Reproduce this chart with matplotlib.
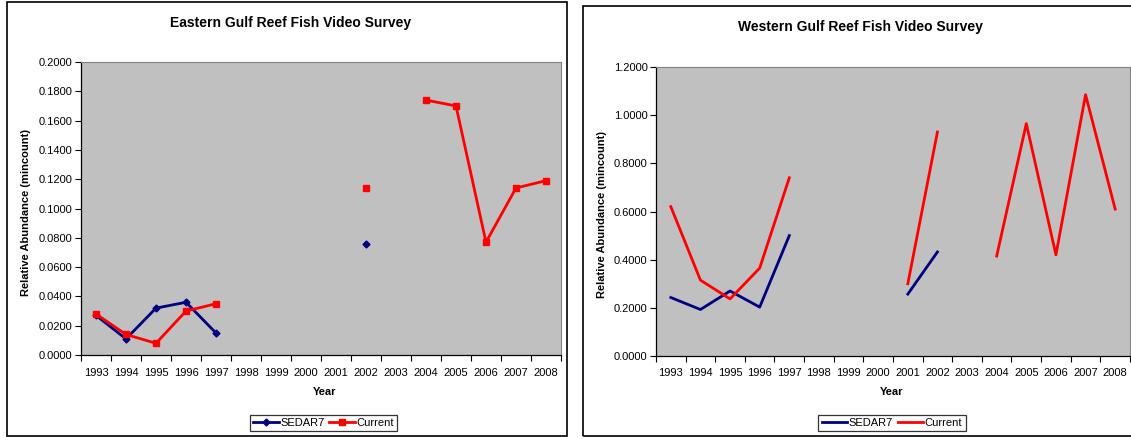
import numpy as np
import matplotlib
matplotlib.use("Agg")
import matplotlib.pyplot as plt
from matplotlib.patches import Rectangle
from matplotlib.ticker import FormatStrFormatter

plt.rcParams['font.family'] = ['Liberation Sans', 'DejaVu Sans']

years = ["1993", "1994", "1995", "1996", "1997", "1998", "1999", "2000",
         "2001", "2002", "2003", "2004", "2005", "2006", "2007", "2008"]
nan = np.nan
east_sedar7 = [0.027, 0.011, 0.032, 0.036, 0.015, nan, nan, nan,
               nan, 0.076, nan, nan, nan, nan, nan, nan]
east_current = [0.028, 0.014, 0.008, 0.030, 0.035, nan, nan, nan,
                nan, 0.114, nan, 0.174, 0.170, 0.077, 0.114, 0.119]
west_sedar7 = [0.243, 0.193, 0.270, 0.203, 0.500, nan, nan, nan,
               0.257, 0.432, nan, nan, nan, nan, nan, nan]
west_current = [0.620, 0.315, 0.237, 0.365, 0.740, nan, nan, nan,
                0.300, 0.930, nan, 0.415, 0.965, 0.420, 1.085, 0.610]

W, H = 1131, 437
fig = plt.figure(figsize=(W / 100, H / 100), dpi=100)
fig.patch.set_facecolor('white')


def fx(px):
    return px / W


def fy(py):
    return 1 - py / H


def panel(box, axbox, title, title_xy, ylab_xy, xlab_xy, leg_box,
          s7, cur, ymax, ystep, markers):
    x0, y0, x1, y1 = box
    fig.patches.append(Rectangle((fx(x0), fy(y1)), fx(x1 - x0), (y1 - y0) / H,
                                 transform=fig.transFigure, fill=False,
                                 edgecolor='black', linewidth=1.2, zorder=0))
    ax0, ay0, ax1, ay1 = axbox
    ax = fig.add_axes([fx(ax0), fy(ay1), fx(ax1 - ax0), (ay1 - ay0) / H])
    ax.set_facecolor('#C0C0C0')
    x = np.arange(len(years))
    if markers:
        ax.plot(x, s7, color='#000080', lw=2.0, marker='D', ms=3.5,
                label='SEDAR7', clip_on=False)
        ax.plot(x, cur, color='#FF0000', lw=2.0, marker='s', ms=4.5,
                label='Current', clip_on=False)
    else:
        ax.plot(x, s7, color='#000080', lw=2.0, label='SEDAR7')
        ax.plot(x, cur, color='#FF0000', lw=2.0, label='Current')
    ax.set_xlim(-0.5, len(years) - 0.5)
    ax.set_ylim(0, ymax)
    ax.set_yticks(np.arange(0, ymax + ystep / 2, ystep))
    ax.yaxis.set_major_formatter(FormatStrFormatter('%.4f'))
    ax.set_xticks(x)
    ax.set_xticklabels(years)
    ax.set_xticks(np.arange(-0.5, len(years), 1.0), minor=True)
    ax.tick_params(axis='x', which='major', length=0, pad=9, labelsize=8,
                   colors='black')
    ax.tick_params(axis='x', which='minor', length=4, width=0.8,
                   direction='out', color='black')
    ax.tick_params(axis='y', length=4, width=0.8, direction='out',
                   labelsize=8, pad=2)
    for s in ['top', 'right']:
        ax.spines[s].set_color('#808080')
        ax.spines[s].set_linewidth(0.8)
    for s in ['left', 'bottom']:
        ax.spines[s].set_color('black')
        ax.spines[s].set_linewidth(0.9)
    fig.text(fx(title_xy[0]), fy(title_xy[1]), title, ha='center', va='center',
             fontsize=10, fontweight='bold')
    fig.text(fx(ylab_xy[0]), fy(ylab_xy[1]), 'Relative Abundance (mincount)',
             ha='center', va='center', rotation=90, fontsize=8,
             fontweight='bold')
    fig.text(fx(xlab_xy[0]), fy(xlab_xy[1]), 'Year', ha='center', va='center',
             fontsize=8, fontweight='bold')
    lx0, ly0, lx1, ly1 = leg_box
    leg = fig.legend(handles=ax.get_lines(), loc='center',
                     bbox_to_anchor=(fx((lx0 + lx1) / 2), fy((ly0 + ly1) / 2)),
                     ncol=2, fontsize=8, frameon=True, fancybox=False,
                     edgecolor='black', handlelength=2.3, handletextpad=0.15,
                     columnspacing=0.4, borderpad=0.3, borderaxespad=0)
    leg.get_frame().set_linewidth(0.9)
    return ax


panel((7, 2, 567, 436), (81, 62, 561, 355),
      'Eastern Gulf Reef Fish Video Survey', (291, 23), (26, 212), (325, 392),
      (249, 413, 398, 433), east_sedar7, east_current, 0.2, 0.02, True)
panel((583, 6, 1140, 436), (656, 67, 1130, 356),
      'Western Gulf Reef Fish Video Survey', (860, 27), (602, 215), (892, 392),
      (819, 413, 965, 433), west_sedar7, west_current, 1.2, 0.2, False)

fig.savefig('out.png', dpi=100)
